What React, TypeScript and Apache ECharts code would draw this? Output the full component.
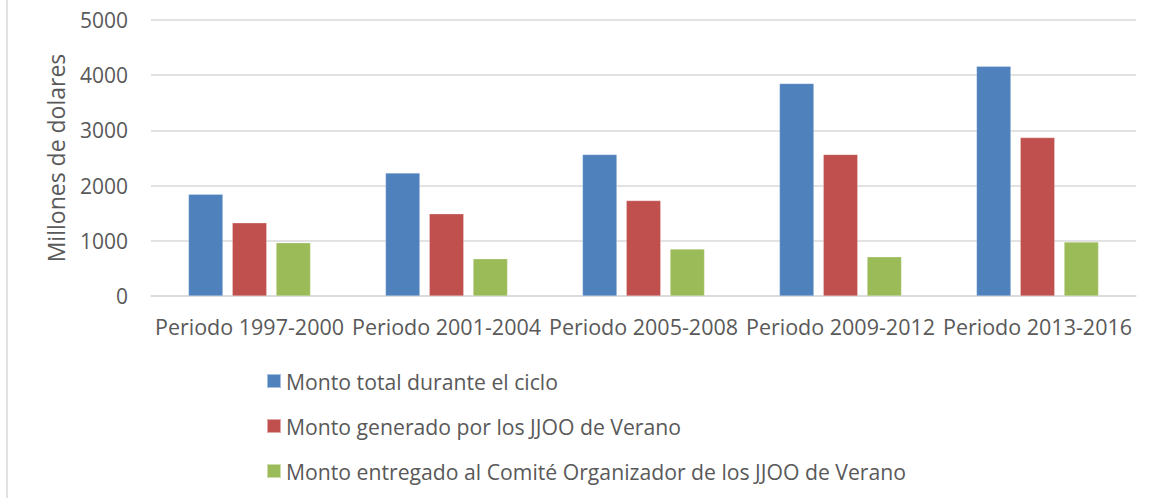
import React, { useEffect, useRef } from "react";
import * as echarts from "echarts";

const categories = [
  "Periodo 1997-2000",
  "Periodo 2001-2004",
  "Periodo 2005-2008",
  "Periodo 2009-2012",
  "Periodo 2013-2016",
];
const seriesNames = [
  "Monto total durante el ciclo",
  "Monto generado por los JJOO de Verano",
  "Monto entregado al Comité Organizador de los JJOO de Verano",
];
const montoTotal = [1845, 2230, 2565, 3850, 4160];
const montoGenerado = [1325, 1490, 1730, 2565, 2870];
const montoEntregado = [965, 675, 850, 710, 980];
const yTicks = { min: 0, max: 5000, interval: 1000 };
const yAxisTitle = "Millones de dolares";

const colors = ["#4F81BD", "#C0504D", "#9BBB59"];
const FONT = "'Open Sans', sans-serif";
const TXT = "#595959";

export default function App() {
  const ref = useRef<HTMLDivElement>(null);
  useEffect(() => {
    if (!ref.current) return;
    const chart = echarts.init(ref.current, null, { renderer: "svg" });
    const values = [montoTotal, montoGenerado, montoEntregado];
    chart.setOption({
      animation: false,
      backgroundColor: "#ffffff",
      textStyle: { fontFamily: FONT },
      grid: { left: 151, right: 18, top: 20, bottom: 202 },
      legend: {
        orient: "vertical",
        left: 266,
        top: 369,
        padding: 0,
        itemWidth: 14,
        itemHeight: 14,
        itemGap: 21,
        icon: "rect",
        data: seriesNames,
        textStyle: {
          fontFamily: FONT,
          fontSize: 21.2,
          color: TXT,
          lineHeight: 24,
          padding: [0, 0, 0, 0],
        },
      },
      xAxis: {
        type: "category",
        data: categories,
        axisLine: { show: true, lineStyle: { color: "#d9d9d9", width: 1.5 } },
        axisTick: { show: false },
        axisLabel: {
          fontFamily: FONT,
          fontSize: 21.5,
          color: TXT,
          margin: 19,
          interval: 0,
        },
      },
      yAxis: {
        type: "value",
        min: yTicks.min,
        max: yTicks.max,
        interval: yTicks.interval,
        name: yAxisTitle,
        nameLocation: "middle",
        nameGap: 84,
        nameTextStyle: { fontFamily: FONT, fontSize: 23, color: TXT },
        axisLine: { show: false },
        axisTick: { show: false },
        axisLabel: {
          fontFamily: FONT,
          fontSize: 21,
          color: TXT,
          margin: 23,
          formatter: (v: number) => String(v),
        },
        splitLine: { lineStyle: { color: "#d9d9d9", width: 1.5 } },
      },
      series: seriesNames.map((name, i) => ({
        name,
        type: "bar",
        data: values[i],
        barWidth: 34.5,
        barGap: "27%",
        itemStyle: { color: colors[i], borderColor: "rgba(255,255,255,0.5)", borderWidth: 0.5 },
      })),
      graphic: [
        {
          type: "line",
          shape: { x1: 7, y1: 0, x2: 7, y2: 498 },
          style: { stroke: "#d9d9d9", lineWidth: 1.5 },
          silent: true,
        },
      ],
    });
    return () => chart.dispose();
  }, []);
  return (
    <div
      ref={ref}
      style={{ position: "fixed", left: 0, top: 0, width: 1154, height: 498 }}
    />
  );
}
